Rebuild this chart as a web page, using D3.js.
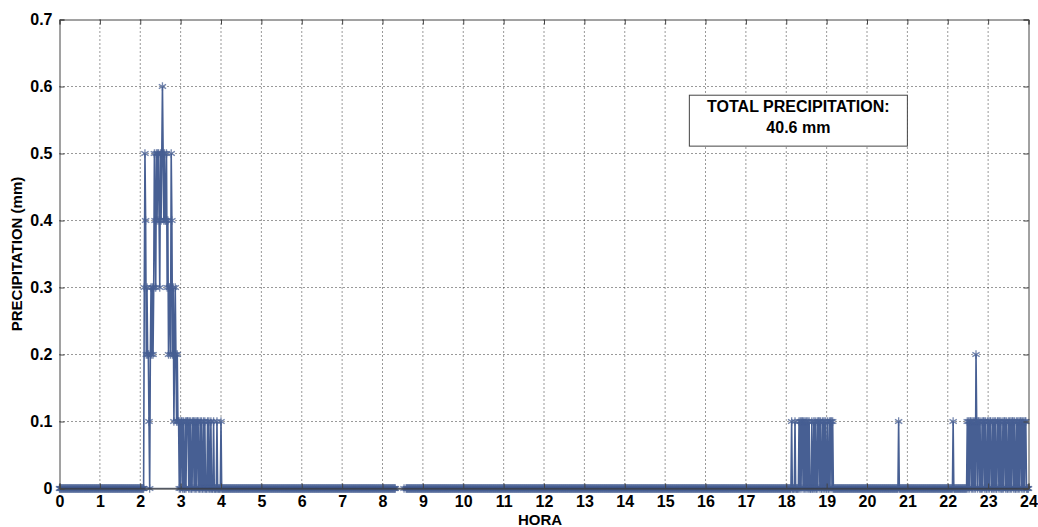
<!DOCTYPE html>
<html>
<head>
<meta charset="utf-8">
<script src="https://cdn.jsdelivr.net/npm/d3@7"></script>
<style>
  body { margin: 0; background: #fff; }
  svg { display: block; font-family: "Liberation Sans", Arial, sans-serif; }
</style>
</head>
<body>
<div id="chart"></div>
<script>
// ===== data (minute of day -> precipitation, mm) =====
var hourTicks = [0,1,2,3,4,5,6,7,8,9,10,11,12,13,14,15,16,17,18,19,20,21,22,23,24];
var precipTicks = [0,0.1,0.2,0.3,0.4,0.5,0.6,0.7];
var precipTickLabels = ["0","0.1","0.2","0.3","0.4","0.5","0.6","0.7"];

// rain event around 02:05 - 04:00
var event1Start = 126;
var event1Values = [0.3,0.5,0.4,0.2,0.3,0.2,0.2,0.1,0,0.2,0.3,0.2,0.3,0.2,0.3,0.5,0.4,0.3,0.5,0.4,
    0.5,0.5,0.4,0.3,0.5,0.4,0.5,0.6,0.5,0.4,0.5,0.4,0.4,0.5,0.3,0.4,0.2,0.3,0.3,0.2,
    0.5,0.4,0.2,0.3,0.1,0.2,0.3,0.2,0.1,0.2,0.1,0.1,
    0,0.1,0,0.1,0.1,0,0.1,0,0,0.1,0,0.1,0.1,0.1,0,0.1,0,0.1,0,0,0.1,0.1,0,0.1,0,0.1,
    0,0.1,0.1,0,0,0.1,0,0.1,0,0,0.1,0,0.1,0,0,0,0.1,0,0.1,0,0,0.1,0,0,0,0.1,0,0,0,0,0.1,0,0,0,0,0,0.1];

// rain event around 18:10 - 19:10
var event2Start = 1088;
var event2Values = [0.1,0,0,0,0,0.1,0,0,0,0,0,0.1,0,0.1,0,0.1,0.1,0,0.1,0,0.1,0,0.1,0,0.1,0,
    0.1,0,0,0,0.1,0,0,0.1,0,0.1,0,0,0.1,0,0.1,0.1,0,0.1,0,0,0.1,0,0.1,0,0.1,0,0,0.1,0,0,
    0.1,0,0.1,0.1,0,0.1,0];

// isolated tips
var event3Start = 1247;
var event3Values = [0.1];
var event4Start = 1328;
var event4Values = [0.1];

// rain event around 22:30 - 24:00
var event5Start = 1349;
var event5Values = [0.1,0,0.1,0,0.1,0.1,0,0.1,0,0.1,0,0.1,0,0.2,0.1,0,0.1,0.1,0,0.1,0,0,0.1,0,
    0.1,0.1,0,0.1,0,0,0.1,0,0.1,0,0.1,0.1,0,0,0.1,0,0.1,0,0.1,0,0,0.1,0.1,0,0.1,0,0.1,0,0,
    0.1,0,0.1,0.1,0,0.1,0,0,0.1,0,0.1,0,0.1,0,0.1,0.1,0,0.1,0,0,0.1,0,0.1,0,0.1,0,0.1,0.1,
    0,0.1,0,0.1,0,0.1,0.1,0];

// missing records (no value) around 08:20 - 08:35, one lone reading inside
var missingMinutes = [500,501,502,503,504,505,506,507,508,509,510,511,513,514];

var totalText = ["TOTAL PRECIPITATION:", "40.6 mm"];

// ===== build minute series =====
var events = [
    [event1Start, event1Values],
    [event2Start, event2Values],
    [event3Start, event3Values],
    [event4Start, event4Values],
    [event5Start, event5Values]
];
var series = [];
for (var m = 0; m <= 1440; m++) series.push({h: m / 60, v: 0});
events.forEach(function(e){
    e[1].forEach(function(v, i){ series[e[0] + i].v = v; });
});
missingMinutes.forEach(function(m){ series[m].v = null; });

// ===== chart =====
var W = 1038, H = 527;
var svg = d3.select("#chart").append("svg")
    .attr("width", W)
    .attr("height", H);

var x = d3.scaleLinear().domain([0,24]).range([59.5,1028.5]);
var y = d3.scaleLinear().domain([0,0.7]).range([488.5,19.5]);

var lineColor = "#475f93";

// grid
svg.append("g")
    .selectAll("line.vg")
    .data(hourTicks.slice(1, -1))
    .enter().append("line")
    .attr("x1", function(d){return x(d)}).attr("x2", function(d){return x(d)})
    .attr("y1", y(0)).attr("y2", y(0.7))
    .attr("stroke", "#333").attr("stroke-width", 1)
    .attr("stroke-dasharray", "1,3");
svg.append("g")
    .selectAll("line.hg")
    .data(precipTicks.slice(1, -1))
    .enter().append("line")
    .attr("y1", function(d){return y(d)}).attr("y2", function(d){return y(d)})
    .attr("x1", x(0)).attr("x2", x(24))
    .attr("stroke", "#333").attr("stroke-width", 1)
    .attr("stroke-dasharray", "1,3");

// data line
var line = d3.line()
    .defined(function(d){return d.v !== null})
    .x(function(d){return x(d.h)})
    .y(function(d){return y(d.v)});

svg.append("path")
    .datum(series)
    .attr("d", line)
    .attr("fill", "none")
    .attr("stroke", lineColor)
    .attr("stroke-width", 1.6);

// star markers
var star = d3.symbol().type(d3.symbolAsterisk).size(50);
svg.append("g")
    .selectAll("path")
    .data(series.filter(function(d){return d.v !== null}))
    .enter().append("path")
    .attr("d", star)
    .attr("transform", function(d){return "translate(" + x(d.h) + "," + y(d.v) + ")"})
    .attr("fill", "none")
    .attr("stroke", lineColor)
    .attr("stroke-opacity", 0.75)
    .attr("stroke-width", 1.3);

// zero line on top
svg.append("line")
    .attr("x1", x(0)).attr("x2", x(24))
    .attr("y1", y(0)).attr("y2", y(0))
    .attr("stroke", "#26324d").attr("stroke-opacity", 0.7).attr("stroke-width", 1.5);

// axes
var xAxis = d3.axisBottom(x).tickValues(hourTicks).tickSize(-5).tickPadding(7)
    .tickFormat(d3.format("d"));
var xTop = d3.axisTop(x).tickValues(hourTicks).tickSize(-5).tickFormat("");
var yAxis = d3.axisLeft(y).tickValues(precipTicks).tickSize(-5).tickPadding(7)
    .tickFormat(function(d, i){return precipTickLabels[i]});
var yRight = d3.axisRight(y).tickValues(precipTicks).tickSize(-5).tickFormat("");

function styleAxis(g){
    g.select(".domain").attr("stroke", "#444");
    g.selectAll(".tick line").attr("stroke", "#444");
    g.selectAll("text")
        .attr("font-family", "Liberation Sans, Arial, sans-serif")
        .attr("font-size", "16px")
        .attr("font-weight", "bold")
        .attr("fill", "#000");
}

svg.append("g").attr("transform", "translate(0," + y(0) + ")").call(xAxis).call(styleAxis);
svg.append("g").attr("transform", "translate(0," + y(0.7) + ")").call(xTop).call(styleAxis);
svg.append("g").attr("transform", "translate(" + x(0) + ",0)").call(yAxis).call(styleAxis);
svg.append("g").attr("transform", "translate(" + x(24) + ",0)").call(yRight).call(styleAxis);

// axis titles
svg.append("text")
    .text("HORA")
    .attr("x", x(11.9))
    .attr("y", 525)
    .attr("text-anchor", "middle")
    .attr("font-size", "15px")
    .attr("font-weight", "bold");

svg.append("text")
    .text("PRECIPITATION (mm)")
    .attr("transform", "translate(22," + y(0.35) + ") rotate(-90)")
    .attr("text-anchor", "middle")
    .attr("font-size", "15px")
    .attr("font-weight", "bold");

// total precipitation box
var box = svg.append("g");
box.append("rect")
    .attr("x", x(15.6)).attr("y", y(0.587))
    .attr("width", x(21.0) - x(15.6))
    .attr("height", y(0.511) - y(0.587))
    .attr("fill", "#fff")
    .attr("stroke", "#444")
    .attr("stroke-width", 1);
box.selectAll("text")
    .data(totalText)
    .enter().append("text")
    .text(function(d){return d})
    .attr("x", x(18.3))
    .attr("y", function(d, i){return y(0.562) + i * 21})
    .attr("text-anchor", "middle")
    .attr("font-size", "16px")
    .attr("font-weight", "bold");
</script>
</body>
</html>
